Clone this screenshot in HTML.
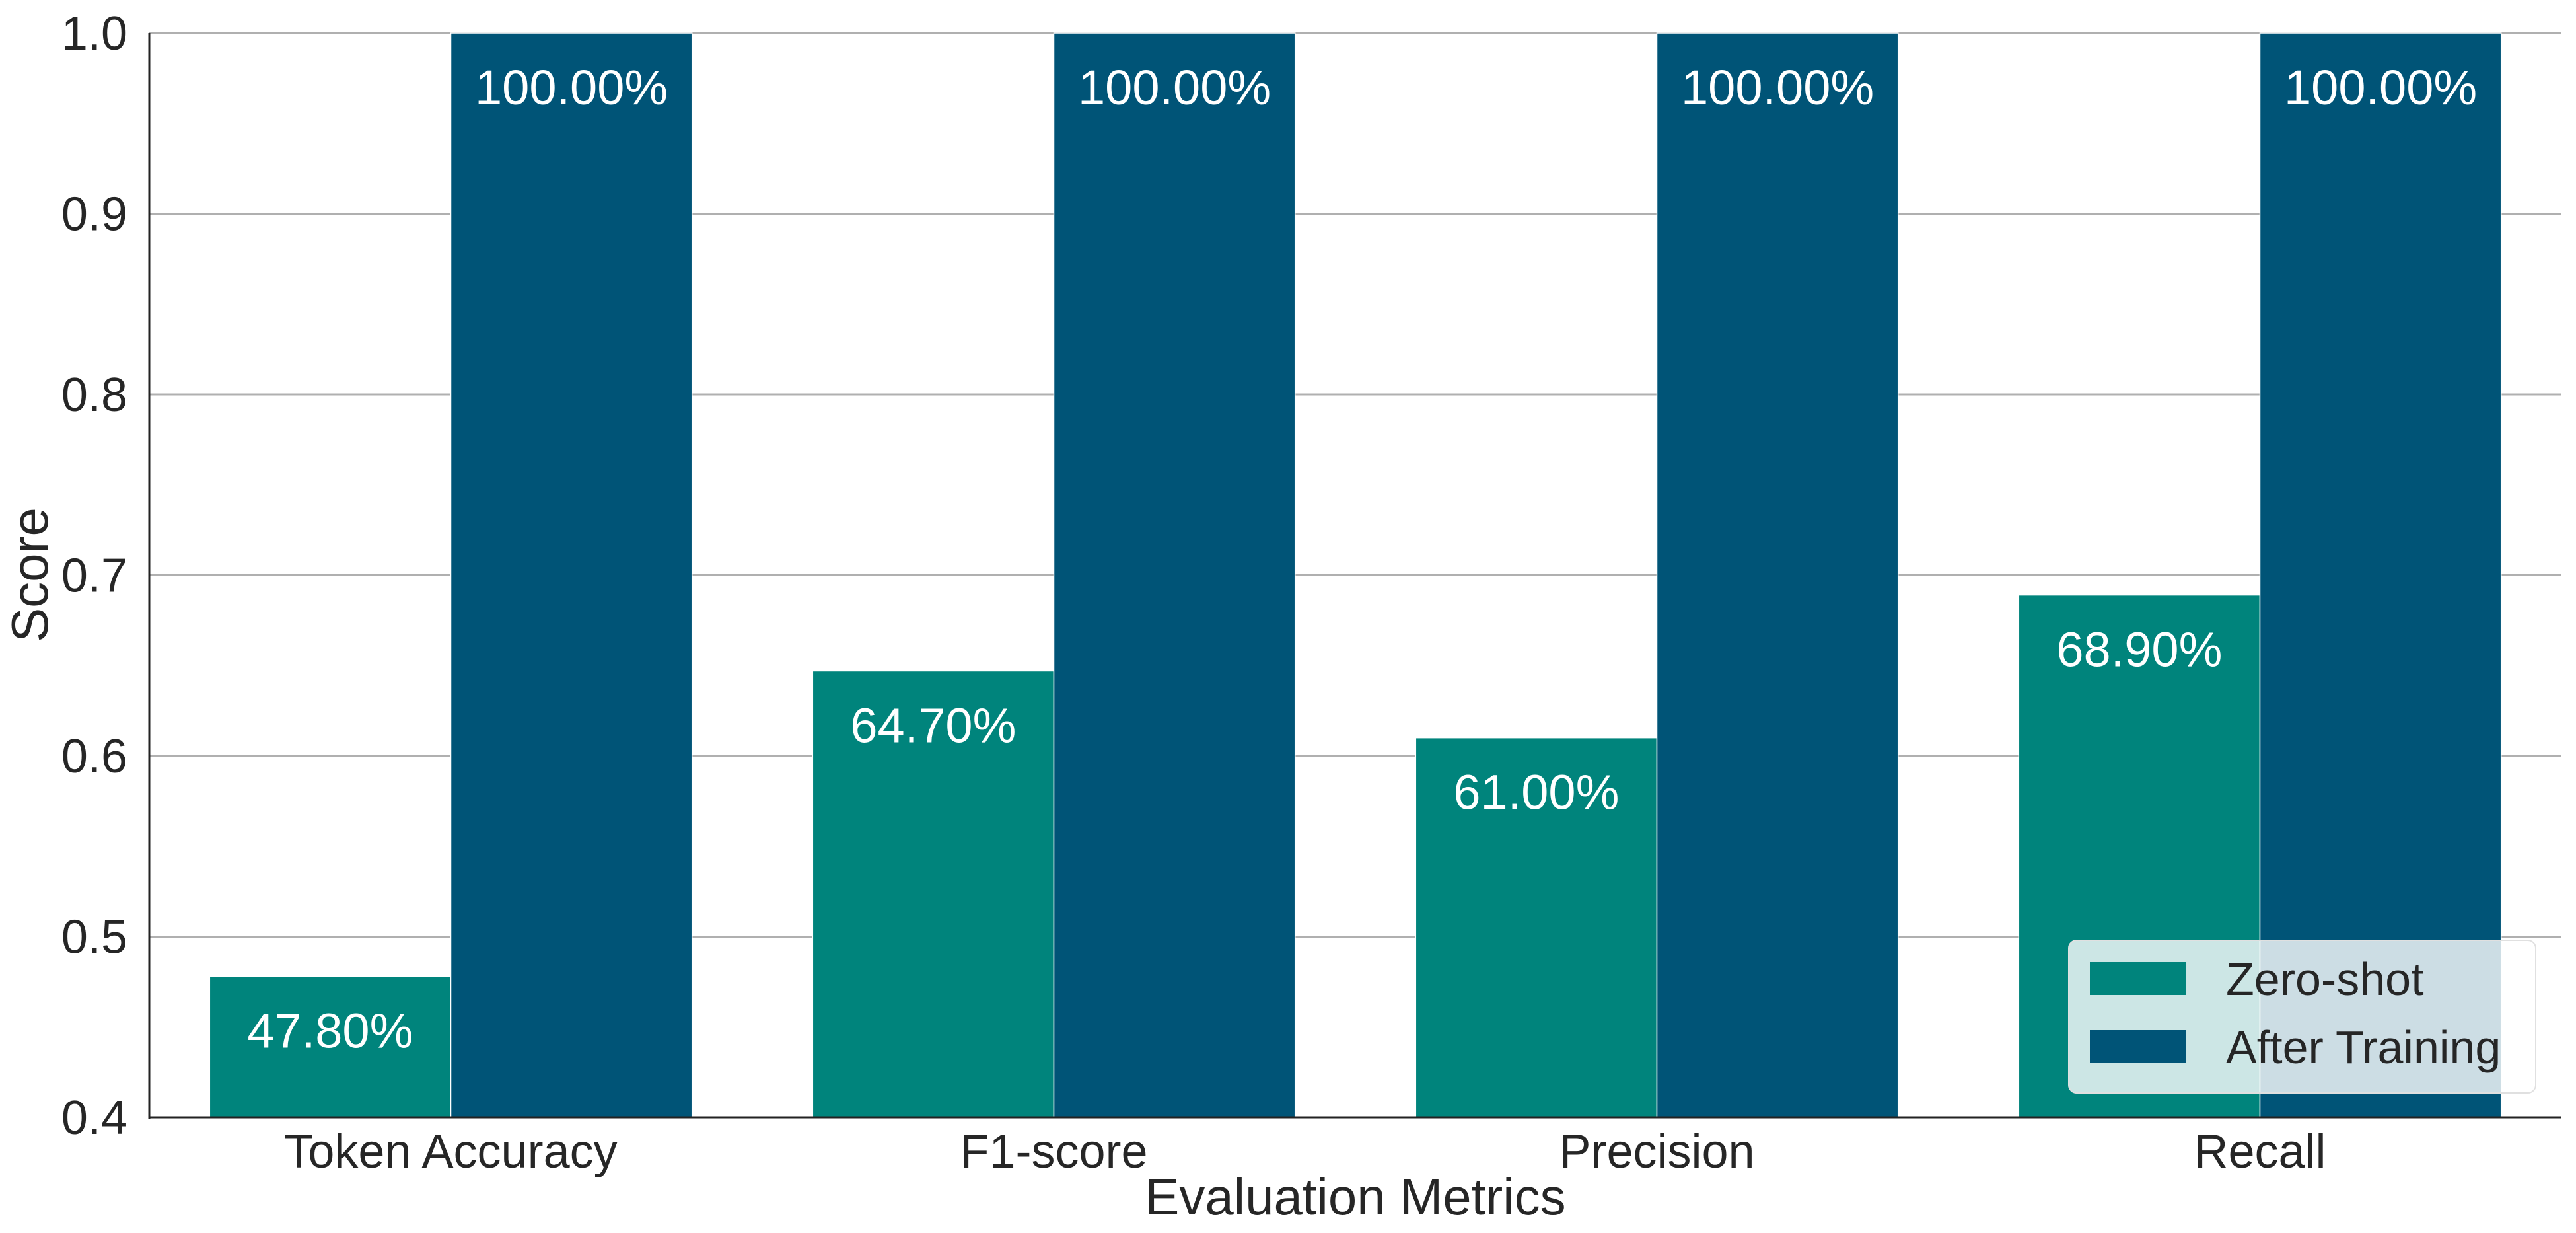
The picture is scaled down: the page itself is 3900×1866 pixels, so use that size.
<!DOCTYPE html>
<html><head><meta charset="utf-8"><style>
body{margin:0;background:#fff}
svg{display:block;font-family:"Liberation Sans",Arial,sans-serif}
</style></head><body>
<svg id="chart" width="3900" height="1866" viewBox="0 0 3900 1866" xmlns="http://www.w3.org/2000/svg">
<rect width="3900" height="1866" fill="#fff"/>
<g id="grid"></g><g id="bars"></g><g id="labels"></g><g id="axes"></g><g id="legend"></g>
</svg>
<script>
const categories = ["Token Accuracy","F1-score","Precision","Recall"];
const zeroShot = [0.478,0.647,0.610,0.689];
const afterTraining = [1.0,1.0,1.0,1.0];
const yTicks = [0.4,0.5,0.6,0.7,0.8,0.9,1.0];
const seriesNames = ["Zero-shot","After Training"];

const NS="http://www.w3.org/2000/svg";
const L=226,R=3878,T=50,B=1691;
const xMin=-0.5,xMax=3.5,yMin=0.4,yMax=1.0;
const xs=v=>L+(v-xMin)/(xMax-xMin)*(R-L);
const ys=v=>B-(v-yMin)/(yMax-yMin)*(B-T);
const colors=["rgb(0,132,124)","rgb(0,84,119)"];
function mk(tag,attrs,parent,text){const e=document.createElementNS(NS,tag);for(const k in attrs)e.setAttribute(k,attrs[k]);if(text!==undefined)e.textContent=text;parent.appendChild(e);return e;}
const grid=document.getElementById('grid'),bars=document.getElementById('bars'),labels=document.getElementById('labels'),axes=document.getElementById('axes'),legend=document.getElementById('legend');
yTicks.forEach(t=>{
  const g=mk('line',{x1:L,x2:R,y1:ys(t),y2:ys(t),stroke:'#b0b0b0','stroke-width':3},grid);
  
  
  const tl=mk('text',{x:193,y:ys(t)+25,'text-anchor':'end','font-size':72,fill:'#262626'},axes,t.toFixed(1));
  
  
});
const bw=0.4;
[zeroShot,afterTraining].forEach((series,si)=>{
  series.forEach((v,i)=>{
    const x0=xs(i-bw+si*bw),x1=xs(i+si*bw);
    const r=mk('rect',{x:x0,y:ys(v),width:x1-x0,height:ys(yMin)-ys(v),fill:colors[si],stroke:'#fff','stroke-width':1.5},bars);
    
    
    const t=mk('text',{x:(x0+x1)/2,y:ys(v)+108,'text-anchor':'middle','font-size':74,fill:'#fff'},labels,(v*100).toFixed(2)+'%');
    
    
  });
});
categories.forEach((c,i)=>{
  const t=mk('text',{x:xs(i),y:1767,'text-anchor':'middle','font-size':72,fill:'#262626'},axes,c);
  
  
});
const la=mk('line',{x1:L,x2:L,y1:T,y2:B+2,stroke:'#222','stroke-width':3},axes);


const ba=mk('line',{x1:L,x2:R,y1:B,y2:B,stroke:'#222','stroke-width':3},axes);


const xt=mk('text',{x:(L+R)/2,y:1838,'text-anchor':'middle','font-size':78,fill:'#262626'},axes,'Evaluation Metrics');


const yt=mk('text',{x:0,y:0,transform:'translate(72,870) rotate(-90)','text-anchor':'middle','font-size':78,fill:'#262626'},axes,'Score');


const box=mk('rect',{x:3132,y:1423,width:707,height:231,rx:12,fill:'rgba(255,255,255,0.8)',stroke:'#e0e0e0','stroke-width':2},legend);


seriesNames.forEach((n,i)=>{
  const y0=1456+i*103;
  const p=mk('rect',{x:3164,y:y0,width:146,height:50,fill:colors[i]},legend);
  
  
  const t=mk('text',{x:3370,y:y0+50,'font-size':70,fill:'#262626'},legend,n);
  
  
});
</script>
</body></html>
